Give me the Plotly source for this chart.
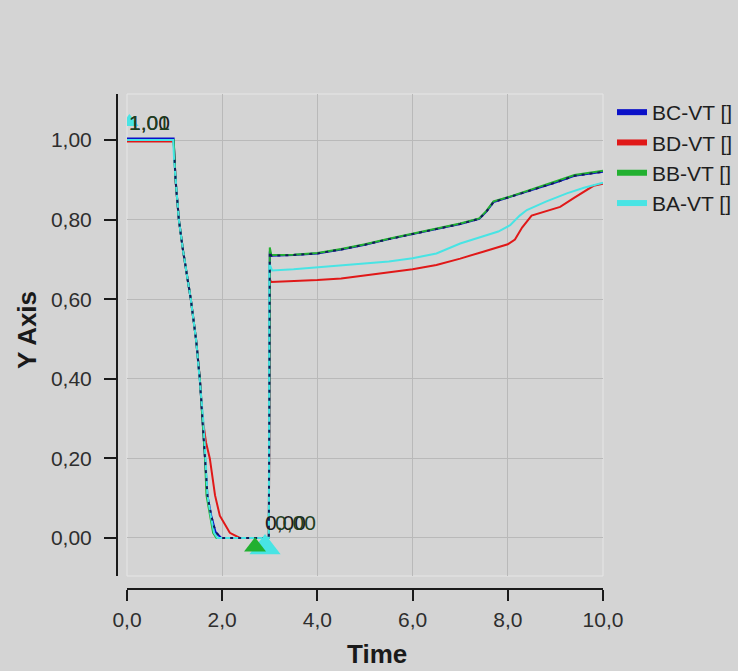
import plotly.graph_objects as go

# ---------------- data ----------------
series_names = ["BC-VT []", "BD-VT []", "BB-VT []", "BA-VT []"]
series_colors = ["#0a10c8", "#e01818", "#22b030", "#48e4e4"]

bb_x = [0.0, 0.98, 1.0, 1.02, 1.09, 1.18, 1.34, 1.45, 1.53, 1.59, 1.64, 1.67, 1.74, 1.81, 1.88, 2.98,
        3.0, 3.03, 3.5, 4.0, 4.5, 5.0, 5.5, 6.0, 6.5, 7.0, 7.4, 7.55, 7.7, 8.0, 8.5, 9.0, 9.4, 10.0]
bb_y = [1.0, 1.0, 0.95, 0.9, 0.8, 0.72, 0.6, 0.5, 0.4, 0.3, 0.2, 0.107, 0.056, 0.013, 0.0, 0.0,
        0.73, 0.711, 0.712, 0.716, 0.726, 0.738, 0.752, 0.765, 0.778, 0.79, 0.803, 0.822, 0.846, 0.856, 0.876, 0.895, 0.912, 0.923]

bc_x = [0.0, 0.98, 1.0, 1.02, 1.09, 1.18, 1.34, 1.45, 1.53, 1.59, 1.64, 1.69, 1.77, 1.86, 1.98, 2.98,
        3.0, 3.03, 3.5, 4.0, 4.5, 5.0, 5.5, 6.0, 6.5, 7.0, 7.4, 7.55, 7.7, 8.0, 8.5, 9.0, 9.4, 10.0]
bc_y = [1.004, 1.004, 0.95, 0.9, 0.8, 0.72, 0.6, 0.5, 0.4, 0.3, 0.2, 0.107, 0.056, 0.015, 0.0, 0.0,
        0.72, 0.709, 0.711, 0.715, 0.725, 0.737, 0.751, 0.764, 0.777, 0.789, 0.802, 0.82, 0.844, 0.855, 0.875, 0.893, 0.91, 0.92]

bd_x = [0.0, 0.98, 1.0, 1.02, 1.09, 1.18, 1.34, 1.45, 1.53, 1.59, 1.66, 1.74, 1.85, 1.95, 2.16, 2.37, 2.98,
        3.0, 3.03, 3.5, 4.0, 4.5, 5.0, 5.5, 6.0, 6.5, 7.0, 7.5, 8.0, 8.15, 8.3, 8.5, 8.8, 9.1, 9.4, 9.8, 10.0]
bd_y = [0.996, 0.996, 0.95, 0.9, 0.8, 0.72, 0.6, 0.5, 0.4, 0.3, 0.24, 0.2, 0.107, 0.056, 0.013, 0.0, 0.0,
        0.65, 0.643, 0.645, 0.648, 0.652, 0.66, 0.668, 0.675, 0.686, 0.702, 0.72, 0.738, 0.75, 0.78, 0.81, 0.822, 0.832, 0.855, 0.885, 0.89]

ba_x = [0.0, 0.97, 0.99, 1.02, 1.09, 1.18, 1.34, 1.45, 1.53, 1.6, 1.65, 1.69, 1.76, 1.83, 1.9, 2.98,
        2.99, 3.05, 3.5, 4.0, 4.5, 5.0, 5.5, 6.0, 6.5, 7.0, 7.5, 7.8, 8.05, 8.25, 8.4, 8.8, 9.24, 9.6, 10.0]
ba_y = [1.0, 1.0, 0.95, 0.9, 0.8, 0.72, 0.6, 0.5, 0.4, 0.3, 0.2, 0.107, 0.056, 0.013, 0.0, 0.0,
        0.69, 0.672, 0.675, 0.68, 0.685, 0.69, 0.695, 0.703, 0.715, 0.74, 0.758, 0.77, 0.786, 0.81, 0.824, 0.845, 0.866, 0.88, 0.893]

# min / max markers and their value labels
max_marker_x = [0.05]
max_marker_y = [1.045]
min_marker_cyan_x = [2.90]
min_marker_cyan_y = [-0.024]
min_marker_green_x = [2.69]
min_marker_green_y = [-0.022]
max_labels = ["1,00", "1,01"]
max_label_pos = [(0.48, 1.045), (0.48, 1.045)]
min_labels = ["0,00", "0,00"]
min_label_pos = [(3.32, 0.04), (3.55, 0.04)]

y_ticks = [0.0, 0.2, 0.4, 0.6, 0.8, 1.0]
x_ticks = [0, 2, 4, 6, 8, 10]

# ---------------- figure ----------------
BG = "#d4d4d4"
FONT = "Liberation Sans, Arial, sans-serif"

fig = go.Figure()

fig.add_trace(go.Scatter(x=bd_x, y=bd_y, mode="lines", line=dict(color=series_colors[1], width=2),
                         showlegend=False, hoverinfo="skip"))
fig.add_trace(go.Scatter(x=bc_x, y=bc_y, mode="lines", line=dict(color=series_colors[0], width=2),
                         showlegend=False, hoverinfo="skip"))
fig.add_trace(go.Scatter(x=bb_x, y=bb_y, mode="lines", line=dict(color=series_colors[2], width=2),
                         showlegend=False, hoverinfo="skip"))
fig.add_trace(go.Scatter(x=ba_x, y=ba_y, mode="lines", line=dict(color=series_colors[3], width=2),
                         showlegend=False, hoverinfo="skip"))
fig.add_trace(go.Scatter(x=bc_x[2:], y=bc_y[2:], mode="lines", line=dict(color="#141a58", width=2, dash="3px,5px"),
                         showlegend=False, hoverinfo="skip"))

# markers
fig.add_trace(go.Scatter(x=max_marker_x, y=max_marker_y, mode="markers",
                         marker=dict(symbol="triangle-up", size=16, color=series_colors[3]),
                         showlegend=False, hoverinfo="skip"))
fig.add_trace(go.Scatter(x=min_marker_cyan_x, y=min_marker_cyan_y, mode="markers",
                         marker=dict(symbol="triangle-up", size=27, color=series_colors[3]),
                         showlegend=False, hoverinfo="skip"))
fig.add_trace(go.Scatter(x=min_marker_green_x, y=min_marker_green_y, mode="markers",
                         marker=dict(symbol="triangle-up", size=19, color=series_colors[2]),
                         showlegend=False, hoverinfo="skip"))

# legend entries
for i, (name, col) in enumerate(zip(series_names, series_colors)):
    fig.add_trace(go.Scatter(x=[None], y=[None], mode="lines", name=name,
                             line=dict(color=col, width=6)))

annotations = []
label_colors = ["#1c1c1c", "#1f3f1f"]
for (lx, ly), txt, c in zip(max_label_pos, max_labels, label_colors):
    annotations.append(dict(x=lx, y=ly, xref="x", yref="y", text=txt, showarrow=False,
                            font=dict(family=FONT, size=21, color=c)))
for (lx, ly), txt, c in zip(min_label_pos, min_labels, label_colors):
    annotations.append(dict(x=lx, y=ly, xref="x", yref="y", text=txt, showarrow=False,
                            font=dict(family=FONT, size=21, color=c)))
annotations.append(dict(x=377 / 738, y=(671 - 654) / 671, xref="paper", yref="paper", text="<b>Time</b>",
                        showarrow=False, xanchor="center", yanchor="middle",
                        font=dict(family=FONT, size=26, color="#1a1a1a")))
annotations.append(dict(x=27 / 738, y=(671 - 330) / 671, xref="paper", yref="paper", text="<b>Y Axis</b>",
                        showarrow=False, xanchor="center", yanchor="middle", textangle=-90,
                        font=dict(family=FONT, size=26, color="#1a1a1a")))

x_dom = [127 / 738, 603 / 738]
y_dom = [(671 - 576) / 671, (671 - 94) / 671]

fig.update_layout(
    width=738, height=671,
    margin=dict(l=0, r=0, t=0, b=0, autoexpand=False),
    paper_bgcolor=BG, plot_bgcolor=BG,
    separators=",.",
    font=dict(family=FONT, size=21, color="#2a2a2a"),
    showlegend=True,
    legend=dict(x=612 / 738, y=(671 - 92) / 671, xref="container", yref="container",
                xanchor="left", yanchor="top",
                bgcolor="rgba(0,0,0,0)", font=dict(family=FONT, size=21, color="#1e1e1e"),
                itemwidth=30, tracegroupgap=0),
    xaxis=dict(domain=x_dom, range=[0, 10], anchor="free", position=(671 - 589) / 671,
               tickvals=x_ticks, tickformat=".1f", ticks="outside", ticklen=11, tickwidth=2,
               tickcolor="#1a1a1a", showline=True, linecolor="#1a1a1a", linewidth=2,
               showgrid=True, gridcolor="#b9b9b9", gridwidth=1, zeroline=False, automargin=False,
               ticklabelstandoff=1, tickfont=dict(size=21, color="#2e2e2e")),
    yaxis=dict(domain=y_dom, range=[-0.0955, 1.1156], anchor="free", position=117 / 738,
               tickvals=y_ticks, tickformat=".2f", ticks="outside", ticklen=12, tickwidth=2,
               tickcolor="#1a1a1a", showline=True, linecolor="#1a1a1a", linewidth=2,
               showgrid=True, gridcolor="#b9b9b9", gridwidth=1, zeroline=False, automargin=False,
               ticklabelstandoff=8, tickfont=dict(size=21, color="#2e2e2e")),
    annotations=annotations,
    shapes=[dict(type="rect", xref="paper", yref="paper", x0=x_dom[0], x1=x_dom[1],
                 y0=y_dom[0], y1=y_dom[1], line=dict(color="#e6e6e6", width=1), layer="below")],
)

fig.write_html("out.html")
